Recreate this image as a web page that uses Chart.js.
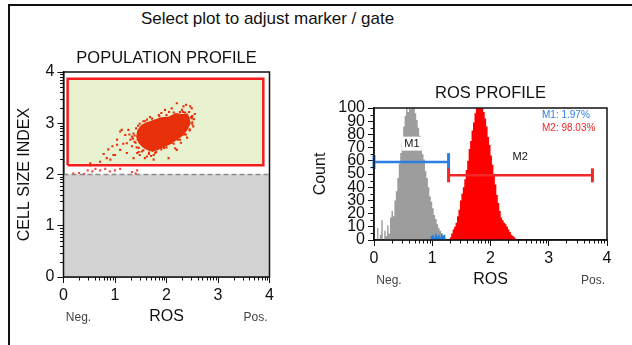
<!DOCTYPE html>
<html>
<head>
<meta charset="utf-8">
<script src="https://cdn.jsdelivr.net/npm/chart.js@4.4.1/dist/chart.umd.min.js"></script>
<style>
  html, body { margin: 0; padding: 0; background: #fff; }
  body { width: 632px; height: 345px; position: relative; overflow: hidden; font-family: "Liberation Sans", Arial, sans-serif; }
  #frame { position: absolute; left: 8px; top: 4px; width: 640px; height: 360px; border-top: 2px solid #111; border-left: 2px solid #111; }
  #heading { position: absolute; left: 0; top: 10px; width: 535px; text-align: center; font-size: 17px; line-height: 18px; color: #111; }
  .plot { position: absolute; }
  #popBox { left: 0; top: 40px; width: 290px; height: 300px; }
  #rosBox { left: 300px; top: 75px; width: 332px; height: 225px; }
</style>
</head>
<body>
<div id="frame"></div>
<div id="heading">Select plot to adjust marker / gate</div>
<div class="plot" id="popBox"><canvas id="popChart" width="290" height="300"></canvas></div>
<div class="plot" id="rosBox"><canvas id="rosChart" width="332" height="225"></canvas></div>
<script>
// axis ticks (log decades shown as 0..4)
const decadeTicks = [0, 1, 2, 3, 4];
const decadeLabels = ['0', '1', '2', '3', '4'];
const countTicks = [0, 10, 20, 30, 40, 50, 60, 70, 80, 90, 100];
const countLabels = ['0', '10', '20', '30', '40', '50', '60', '70', '80', '90', '100'];

// population profile: dense core outline (ROS, cell size)
const coreRos  = [2.44, 2.40, 2.30, 2.18, 2.05, 1.90, 1.76, 1.62, 1.52, 1.45, 1.43, 1.47, 1.54, 1.62, 1.73,
                  1.84, 1.96, 2.08, 2.20, 2.32, 2.40, 2.45];
const coreSize = [3.08, 3.17, 3.16, 3.18, 3.11, 3.10, 3.05, 3.00, 2.95, 2.85, 2.74, 2.63, 2.55, 2.50, 2.46,
                  2.50, 2.56, 2.61, 2.70, 2.78, 2.90, 3.00];

// single events around the core
const eventRos  = [0.87, 1.04, 1.13, 1.10, 1.00, 0.84, 0.71, 0.52, 1.23, 1.33, 1.43, 2.20, 2.30, 2.46, 2.49, 2.04, 2.17, 1.75, 1.62,
                   1.10, 1.20, 1.26, 1.04, 1.23, 1.33, 0.97, 0.91, 1.36, 1.75, 2.20, 2.30, 2.52, 2.49, 2.33, 1.97, 2.10, 1.62, 0.52,
                   1.36, 1.38, 1.45, 1.55, 1.68, 1.85, 2.05, 2.32, 2.50, 2.50, 2.45, 2.35, 2.22, 2.10, 1.95, 1.80, 1.66, 1.52, 1.42,
                   1.30, 1.28, 1.48, 1.58, 2.55, 2.38, 1.90, 1.70, 2.28, 0.78, 0.95, 1.16,
                   2.48, 2.44, 2.36, 2.26, 2.14, 2.00, 1.86, 1.72, 1.58, 1.48, 1.41, 1.38, 1.40, 1.46, 1.55, 1.66, 1.78, 1.90,
                   2.00, 2.14, 2.26, 2.38, 2.45, 2.50, 2.53, 1.50, 1.44, 2.36, 1.60, 2.12, 1.35, 1.46, 1.68, 2.40];
const eventSize = [2.49, 2.68, 2.87, 2.48, 2.38, 2.32, 2.25, 2.22, 2.61, 2.74, 2.42, 3.39, 3.26, 3.33, 3.10, 2.32, 2.51, 2.38, 2.35,
                   2.84, 2.77, 2.87, 2.58, 2.42, 2.55, 2.38, 2.29, 2.32, 2.29, 2.48, 2.81, 2.94, 3.29, 3.33, 3.26, 3.29, 3.07, 2.18,
                   2.80, 2.64, 2.95, 3.04, 3.12, 3.16, 3.22, 3.22, 3.14, 3.02, 2.86, 2.78, 2.68, 2.62, 2.52, 2.44, 2.40, 2.45, 2.53,
                   2.68, 2.78, 2.38, 2.32, 3.18, 3.36, 3.20, 2.36, 2.62, 2.40, 2.55, 2.60,
                   3.12, 3.22, 3.21, 3.22, 3.21, 3.16, 3.14, 3.09, 3.04, 2.99, 2.90, 2.76, 2.62, 2.52, 2.47, 2.43, 2.42, 2.49,
                   2.53, 2.60, 2.68, 2.78, 2.88, 2.98, 3.08, 2.90, 2.68, 3.10, 2.52, 3.14, 2.70, 2.44, 2.48, 2.72];

// events between the gate and the size cutoff
const lowRos  = [0.19, 0.30, 0.40, 0.47, 0.56, 0.62, 0.71, 0.81, 0.90, 1.00, 1.10, 1.33, 1.43, 1.40];
const lowSize = [2.02, 2.03, 2.01, 2.08, 2.06, 2.11, 2.08, 2.11, 2.06, 2.08, 2.11, 2.05, 2.08, 2.02];

const gateRos = [0.08, 3.88];
const gateSize = [2.18, 3.87];
const sizeCutoff = 2;

// ROS profile histogram
const binWidth = 0.025;
const greyStart = 0.05;
const greyCounts = [0, 9, 0, 4, 15, 0, 7, 3, 11, 5, 17, 22, 18, 30, 37, 47, 58, 66, 73, 86, 94, 106, 97, 114, 99,
                    121, 103, 96, 91, 85, 79, 72, 65, 61, 52, 47, 40, 33, 29, 24, 19, 16, 12, 9, 7, 5, 4, 2, 1, 0];
const redStart = 1.30;
const redCounts = [0, 2, 5, 8, 10, 13, 18, 23, 30, 35, 40, 46, 53, 60, 69, 75, 83, 89, 96, 108, 101, 116, 104, 112,
                   97, 92, 86, 78, 72, 64, 57, 49, 42, 34, 28, 22, 17, 15, 13, 12, 10, 8, 6, 4, 3, 2, 1, 0];
const blueStart = 0.95;
const blueCounts = [2, 0, 3, 4, 2, 5, 3, 4, 2, 5, 3, 4, 0];

// markers
const markerNames = ['M1', 'M2'];
const markerFrom = [0, 1.28];
const markerTo = [1.28, 3.75];
const markerLevel = [59, 49];
const markerShares = [1.97, 98.03];
const markerTagRos = [0.65, 2.51];
const markerTagCount = [73, 63];
const markerColors = ['#2a7fe0', '#f02828'];

const FONT = '"Liberation Sans", Arial, sans-serif';
const minorDecades = [];
for (let d = 0; d < 4; d++) {
  for (let k = 2; k <= 9; k++) minorDecades.push(d + Math.log10(k));
}
const minorCounts = [5, 15, 25, 35, 45, 55, 65, 75, 85, 95];

const pts = (xs, ys) => xs.map((x, i) => ({ x, y: ys[i] }));
const bins = (start, counts) => counts.map((c, i) => ({ x: start + i * binWidth, y: c }));

// frame round the plot area, minor ticks and the Neg./Pos. ends
const plotFrame = {
  id: 'plotFrame',
  afterDraw(chart, args, opts) {
    const { ctx, chartArea: a } = chart;
    const xs = chart.scales.x, ys = chart.scales.y;
    ctx.save();
    ctx.strokeStyle = '#111';
    ctx.lineWidth = 1.5;
    ctx.strokeRect(a.left, a.top, a.width, a.height);
    ctx.lineWidth = 1;
    ctx.beginPath();
    opts.xMinor.forEach(v => {
      const p = Math.round(xs.getPixelForValue(v)) + 0.5;
      ctx.moveTo(p, a.bottom);
      ctx.lineTo(p, a.bottom + 3.5);
    });
    opts.yMinor.forEach(v => {
      const p = Math.round(ys.getPixelForValue(v)) + 0.5;
      ctx.moveTo(a.left - 3.5, p);
      ctx.lineTo(a.left, p);
    });
    ctx.stroke();
    ctx.font = '12px ' + FONT;
    ctx.fillStyle = '#444';
    ctx.textAlign = 'center';
    ctx.textBaseline = 'middle';
    ctx.fillText('Neg.', a.left + 15, a.bottom + 41);
    ctx.fillText('Pos.', a.right - 14, a.bottom + 41);
    ctx.restore();
  }
};

// marker names and gated percentages
const markerText = {
  id: 'markerText',
  afterDatasetsDraw(chart) {
    const { ctx, chartArea: a } = chart;
    const xs = chart.scales.x, ys = chart.scales.y;
    ctx.save();
    ctx.textAlign = 'center';
    ctx.textBaseline = 'middle';
    ctx.font = '11px ' + FONT;
    markerNames.forEach((name, i) => {
      const px = xs.getPixelForValue(markerTagRos[i]);
      const py = ys.getPixelForValue(markerTagCount[i]);
      if (i === 0) {
        ctx.fillStyle = '#fff';
        ctx.fillRect(px - 10, py - 7, 20, 14);
      }
      ctx.fillStyle = '#111';
      ctx.fillText(name, px, py);
    });
    ctx.textAlign = 'left';
    ctx.font = '10px ' + FONT;
    markerNames.forEach((name, i) => {
      ctx.fillStyle = markerColors[i];
      ctx.fillText(name + ': ' + markerShares[i].toFixed(2) + '%', a.left + 168, a.top + 7 + i * 13);
    });
    ctx.restore();
  }
};

function axis(ticks, labels, min, max, extra) {
  return Object.assign({
    type: 'linear', min, max,
    afterBuildTicks: s => { s.ticks = ticks.map(v => ({ value: v })); },
    ticks: {
      autoSkip: false, maxRotation: 0, color: '#111', padding: 3,
      font: { family: FONT, size: 16 },
      callback: (v, i) => labels[i]
    },
    grid: { drawOnChartArea: false, drawTicks: true, tickLength: 6, color: '#111' },
    border: { display: true, color: '#111', width: 1.5 }
  }, extra);
}

function axisTitle(text, padding) {
  return { display: true, text, color: '#111', font: { family: FONT, size: 16 }, padding };
}

const popChart = new Chart(document.getElementById('popChart'), {
  type: 'scatter',
  data: {
    datasets: [
      {
        data: pts(lowRos, lowSize),
        pointStyle: 'rect', pointRadius: 1.5, borderWidth: 0,
        backgroundColor: '#f04a40', order: 1
      },
      {
        data: pts(eventRos, eventSize),
        pointStyle: 'rect', pointRadius: 1.5, borderWidth: 0,
        backgroundColor: '#e8300a', order: 1
      },
      {
        type: 'line',
        data: pts(coreRos.concat(coreRos[0]), coreSize.concat(coreSize[0])),
        fill: 'shape', backgroundColor: '#e8300a', borderColor: '#e8300a',
        borderWidth: 2, pointRadius: 0, order: 2
      },
      {
        type: 'line',
        data: pts([gateRos[0], gateRos[1], gateRos[1], gateRos[0], gateRos[0]],
                  [gateSize[0], gateSize[0], gateSize[1], gateSize[1], gateSize[0]]),
        fill: 'shape', backgroundColor: '#e9f2d0', borderColor: '#f41c1c',
        borderWidth: 2.5, pointRadius: 0, order: 4
      },
      {
        type: 'line',
        data: pts([decadeTicks[0], decadeTicks[decadeTicks.length - 1]], [sizeCutoff, sizeCutoff]),
        fill: 'origin', backgroundColor: '#d2d2d2', borderColor: '#8c8c8c',
        borderWidth: 1.5, borderDash: [5, 3], pointRadius: 0, order: 5
      }
    ]
  },
  options: {
    responsive: false, animation: false, devicePixelRatio: 1,
    layout: { padding: { top: 0, right: 20.5, bottom: 0, left: 0 } },
    plugins: {
      legend: { display: false }, tooltip: { enabled: false },
      title: {
        display: true, text: 'POPULATION PROFILE', fullSize: false, color: '#111',
        font: { family: FONT, size: 16.5, weight: 'normal' },
        padding: { top: 9, bottom: 3.2 }
      },
      plotFrame: { xMinor: minorDecades, yMinor: minorDecades }
    },
    scales: {
      x: axis(decadeTicks, decadeLabels, 0, 4, {
        title: axisTitle('ROS', { top: 0, bottom: 13.4 }),
        afterFit: s => { s.height = 63; }
      }),
      y: axis(decadeTicks, decadeLabels, 0, 4, {
        title: axisTitle('CELL SIZE INDEX', { top: 15.4, bottom: 0 }),
        afterFit: s => { s.width = 63.5; }
      })
    }
  },
  plugins: [plotFrame]
});

const markerSet = i => ({
  type: 'line',
  data: pts([markerFrom[i], markerTo[i]], [markerLevel[i], markerLevel[i]]),
  borderColor: markerColors[i], borderWidth: 2.5,
  pointStyle: 'line', rotation: 90, pointRadius: i === 0 ? [7, 9] : 7,
  pointBorderWidth: 3, pointBorderColor: markerColors[i],
  clip: false, order: 2 - i
});

const rosChart = new Chart(document.getElementById('rosChart'), {
  type: 'scatter',
  data: {
    datasets: [
      markerSet(0),
      markerSet(1),
      {
        type: 'line', data: bins(blueStart, blueCounts), stepped: 'after',
        fill: 'origin', backgroundColor: '#1f7fe0', borderWidth: 0, pointRadius: 0, order: 4
      },
      {
        type: 'line', data: bins(redStart, redCounts), stepped: 'after',
        fill: 'origin', backgroundColor: '#ff0000', borderWidth: 0, pointRadius: 0, order: 5
      },
      {
        type: 'line', data: bins(greyStart, greyCounts), stepped: 'after',
        fill: 'origin', backgroundColor: '#9d9d9d', borderWidth: 0, pointRadius: 0, order: 6
      }
    ]
  },
  options: {
    responsive: false, animation: false, devicePixelRatio: 1,
    layout: { padding: { top: 0, right: 25, bottom: 0, left: 0 } },
    plugins: {
      legend: { display: false }, tooltip: { enabled: false },
      title: {
        display: true, text: 'ROS PROFILE', fullSize: false, color: '#111',
        font: { family: FONT, size: 16.5, weight: 'normal' },
        padding: { top: 9, bottom: 4.2 }
      },
      plotFrame: { xMinor: minorDecades, yMinor: minorCounts }
    },
    scales: {
      x: axis(decadeTicks, decadeLabels, 0, 4, {
        title: axisTitle('ROS', { top: 0, bottom: 10.4 }),
        afterFit: s => { s.height = 60; }
      }),
      y: axis(countTicks, countLabels, 0, 100, {
        title: axisTitle('Count', { top: 11.4, bottom: 0 }),
        afterFit: s => { s.width = 74; }
      })
    }
  },
  plugins: [plotFrame, markerText]
});
</script>
</body>
</html>
